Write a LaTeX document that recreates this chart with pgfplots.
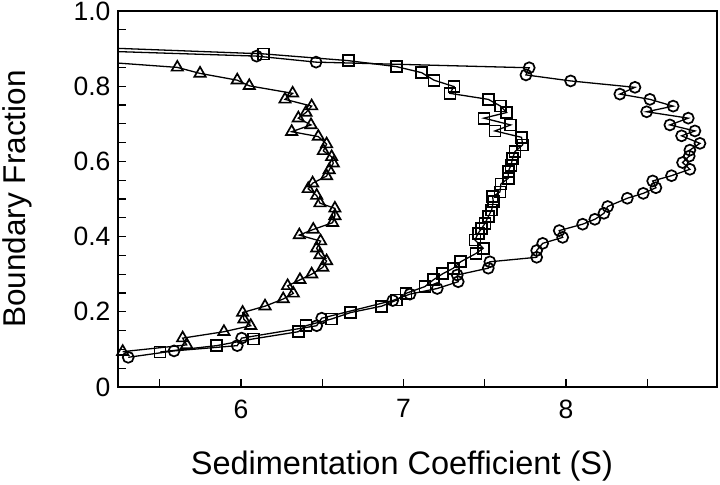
\documentclass[border=0pt]{standalone}
\usepackage{fontspec}
\setmainfont{Liberation Sans}
\usepackage{pgfplots}
\pgfplotsset{compat=1.18}

% boundary fraction vs s, three samples
\pgfplotstableread{
x y
5.100 0.866
5.608 0.850
5.748 0.834
5.977 0.816
6.051 0.801
6.318 0.781
6.271 0.765
6.435 0.747
6.400 0.730
6.353 0.715
6.431 0.697
6.312 0.679
6.476 0.666
6.527 0.646
6.507 0.628
6.558 0.612
6.568 0.595
6.543 0.577
6.527 0.561
6.441 0.542
6.414 0.527
6.466 0.509
6.486 0.489
6.578 0.475
6.578 0.455
6.564 0.437
6.445 0.419
6.359 0.404
6.490 0.388
6.466 0.369
6.486 0.351
6.527 0.335
6.503 0.318
6.435 0.300
6.363 0.285
6.287 0.269
6.322 0.249
6.260 0.234
6.148 0.215
6.010 0.198
6.018 0.180
6.060 0.163
5.895 0.147
5.641 0.130
5.666 0.112
5.272 0.094
}\triangles

\pgfplotstableread{
x y
5.100 0.903
6.137 0.886
6.660 0.868
6.958 0.852
7.112 0.836
7.188 0.816
7.311 0.799
7.286 0.781
7.522 0.765
7.598 0.747
7.635 0.730
7.495 0.715
7.660 0.697
7.563 0.681
7.727 0.664
7.734 0.644
7.686 0.626
7.672 0.608
7.662 0.590
7.645 0.573
7.645 0.555
7.600 0.540
7.594 0.519
7.549 0.506
7.553 0.493
7.543 0.471
7.522 0.453
7.502 0.435
7.480 0.421
7.460 0.409
7.440 0.391
7.491 0.369
7.446 0.355
7.352 0.333
7.307 0.316
7.241 0.301
7.184 0.285
7.132 0.267
7.015 0.249
6.958 0.231
6.866 0.215
6.675 0.198
6.558 0.181
6.400 0.163
6.353 0.147
6.076 0.128
5.850 0.110
5.502 0.093
}\squares

\pgfplotstableread{
x y
5.100 0.894
6.096 0.880
6.462 0.864
7.774 0.849
7.754 0.830
8.029 0.814
8.425 0.797
8.332 0.779
8.517 0.765
8.660 0.747
8.497 0.732
8.753 0.715
8.640 0.697
8.794 0.681
8.712 0.668
8.825 0.648
8.763 0.630
8.759 0.614
8.718 0.597
8.763 0.579
8.650 0.562
8.534 0.548
8.554 0.530
8.476 0.515
8.378 0.502
8.257 0.480
8.234 0.462
8.178 0.446
8.103 0.433
7.959 0.416
7.980 0.398
7.857 0.382
7.820 0.363
7.820 0.345
7.532 0.333
7.522 0.316
7.331 0.298
7.337 0.280
7.208 0.262
7.040 0.247
6.934 0.230
6.497 0.183
6.466 0.163
6.004 0.130
5.977 0.110
5.588 0.096
5.306 0.079
}\circles

\begin{document}
\begin{tikzpicture}
\begin{axis}[
  at={(0,0)}, anchor=south west,
  scale only axis,
  width=599bp, height=376bp,
  xmin=5.243, xmax=8.93,
  ymin=0, ymax=1,
  axis line style={line width=1.6pt},
  tick style={black, line width=1.2pt},
  major tick length=8bp, minor tick length=8bp,
  tick align=inside,
  xtick pos=bottom, ytick pos=left,
  xtick={6,7,8}, xticklabels={6,7,8},
  minor xtick={5.5,6.5,7.5,8.5},
  ytick={0,0.2,0.4,0.6,0.8,1.0},
  yticklabels={0,0.2,0.4,0.6,0.8,1.0},
  minor ytick={0.05,0.1,0.15,0.25,0.3,0.35,0.45,0.5,0.55,0.65,0.7,0.75,0.85,0.9,0.95},
  /pgf/number format/assume math mode=true,
  ticklabel style={font=\fontsize{26.5bp}{31bp}\selectfont},
  xticklabel style={yshift=-9bp},
  yticklabel style={xshift=-4bp},
  xlabel={Sedimentation Coefficient (S)},
  ylabel={Boundary Fraction},
  every axis x label/.style={at={(axis description cs:0.474,-0.210)}, anchor=center, font=\fontsize{32.5bp}{38bp}\selectfont},
  every axis y label/.style={at={(axis description cs:-0.1686,0.5)}, rotate=90, anchor=center, font=\fontsize{31.5bp}{37bp}\selectfont},
  clip=true,
]
\addplot[black, line width=1.3pt, mark=triangle, mark size=6.5bp, mark options={line width=1.7pt, fill=white}] table[x=x,y=y] {\triangles};
\addplot[black, line width=1.3pt, mark=square, mark size=5.5bp, mark options={line width=1.7pt, fill=white}] table[x=x,y=y] {\squares};
\addplot[black, line width=1.3pt, mark=o, mark size=5.5bp, mark options={line width=1.7pt, fill=white}] table[x=x,y=y] {\circles};
\end{axis}
\pgfresetboundingbox
\path[use as bounding box] ([xshift=-118bp,yshift=-98bp]current axis.south west) rectangle ([xshift=3bp,yshift=11bp]current axis.north east);
\end{tikzpicture}
\end{document}
